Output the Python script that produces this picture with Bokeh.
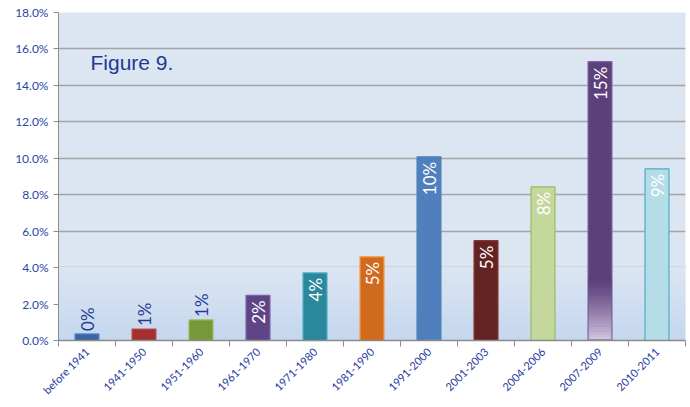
import numpy as np
from bokeh.plotting import figure
from bokeh.models import (ColumnDataSource, FixedTicker, NumeralTickFormatter, Range1d,
                          BoxAnnotation, Label)
from bokeh.core.properties import value
from bokeh.embed import file_html
from bokeh.resources import INLINE

categories = ["before 1941", "1941-1950", "1951-1960", "1961-1970", "1971-1980", "1981-1990",
              "1991-2000", "2001-2003", "2004-2006", "2007-2009", "2010-2011"]
shares = [0.0036, 0.0063, 0.0113, 0.0248, 0.0371, 0.0459, 0.1008, 0.0548, 0.0843, 0.1530, 0.0942]
bar_labels = ["0%", "1%", "1%", "2%", "4%", "5%", "10%", "5%", "8%", "15%", "9%"]
y_ticks = [0.0, 0.02, 0.04, 0.06, 0.08, 0.10, 0.12, 0.14, 0.16, 0.18]

fills = ["#3b64a2", "#a3302e", "#76973a", "#5f4587", "#2a889c", "#d06a1c",
         "#4f7fbd", "#632322", "#c4d79c", "#5d3f7c", "#b5dde7"]
outlines = ["#5b84c2", "#c0504d", "#9bbb59", "#7d62a5", "#4bacc6", "#f79646",
            "#4f81bd", "#8a3532", "#9bbb59", "#8064a2", "#4bacc6"]

x = np.arange(len(categories)) + 0.5
src = ColumnDataSource(dict(x=x, top=shares, fill=fills, line=outlines, lab=bar_labels))

p = figure(width=688, height=403, output_backend="svg", toolbar_location=None,
           x_range=Range1d(0, len(categories)), y_range=Range1d(0, 0.18),
           min_border_left=58, min_border_right=3, min_border_top=12, min_border_bottom=40)
p.outline_line_color = None
p.background_fill_color = "#dce6f2"
p.border_fill_color = "white"

# gradient at bottom of plot area
n = 20
c0 = np.array([0xdc, 0xe6, 0xf2])
c1 = np.array([0xc4, 0xd7, 0xef])
for i in range(n):
    t = (i + 0.5) / n
    c = (c1 * (1 - t) + c0 * t).astype(int)
    p.add_layout(BoxAnnotation(bottom=0.04 * i / n, top=0.04 * (i + 1) / n + 0.0003,
                               fill_color="#%02x%02x%02x" % tuple(c), fill_alpha=1.0,
                               line_color=None, level="underlay"))

p.vbar(x="x", top="top", width=0.42, bottom=0, source=src, fill_color="fill",
       line_color="line", line_width=1.2)

# gradient at bottom of 2007-2009 bar
idx = categories.index("2007-2009")
g0 = np.array([0x5d, 0x3f, 0x7c])
g1 = np.array([0xd4, 0xc6, 0xe0])
m = 24
for i in range(m):
    t = (i + 0.5) / m
    c = (g1 * (1 - t) ** 1.3 + g0 * (1 - (1 - t) ** 1.3)).astype(int)
    p.add_layout(BoxAnnotation(left=x[idx] - 0.2, right=x[idx] + 0.2,
                               bottom=0.0005 + 0.034 * i / m, top=0.0005 + 0.034 * (i + 1) / m + 0.0003,
                               fill_color="#%02x%02x%02x" % tuple(c), fill_alpha=1.0,
                               line_color=None, level="annotation"))

# labels: small bars get label above (dark blue), the rest inside (white)
outside = [i for i, v in enumerate(shares) if v < 0.02]
inside = [i for i, v in enumerate(shares) if v >= 0.02]
s_out = ColumnDataSource(dict(x=[x[i] for i in outside], y=[shares[i] for i in outside],
                              t=[bar_labels[i] for i in outside]))
s_in = ColumnDataSource(dict(x=[x[i] for i in inside], y=[shares[i] for i in inside],
                             t=[bar_labels[i] for i in inside]))
p.text(x="x", y="y", text="t", source=s_out, angle=np.pi / 2, text_align="left",
       text_baseline="middle", y_offset=-3, text_color="#1f3a93",
       text_font_size="17px", text_font=value("Lato"))
p.text(x="x", y="y", text="t", source=s_in, angle=np.pi / 2, text_align="right",
       text_baseline="middle", y_offset=5, text_color="white",
       text_font_size="17px", text_font=value("Lato"))

p.add_layout(Label(x=32, y=267, x_units="screen", y_units="screen", text="Figure 9.",
                   text_color="#1f3a93", text_font_size="21px", text_font="Liberation Sans"))

# axes
p.xgrid.grid_line_color = None
p.ygrid.grid_line_color = "#a5a5a5"
p.ygrid.grid_line_width = 1.5
p.ygrid.ticker = FixedTicker(ticks=y_ticks)

p.yaxis.ticker = FixedTicker(ticks=y_ticks)
p.yaxis.formatter = NumeralTickFormatter(format="0.0%")
p.yaxis.axis_line_color = "#8c8c8c"
p.yaxis.major_tick_line_color = "#8c8c8c"
p.yaxis.major_tick_in = 0
p.yaxis.major_tick_out = 5
p.yaxis.minor_tick_line_color = None
p.yaxis.major_label_text_color = "#2a46a4"
p.yaxis.major_label_text_font = "Lato"
p.yaxis.major_label_text_font_size = "12px"

p.xaxis.ticker = FixedTicker(ticks=list(x), minor_ticks=list(range(len(categories) + 1)))
p.xaxis.major_label_overrides = {float(xi): c for xi, c in zip(x, categories)}
p.xaxis.major_label_orientation = np.pi / 4
p.xaxis.major_label_standoff = 3
p.xaxis.major_tick_line_color = None
p.xaxis.major_tick_out = 0
p.xaxis.major_tick_in = 0
p.xaxis.minor_tick_line_color = "#8c8c8c"
p.xaxis.minor_tick_in = 0
p.xaxis.minor_tick_out = 6
p.xaxis.axis_line_color = "#8c8c8c"
p.xaxis.axis_line_width = 1.5
p.xaxis.major_label_text_color = "#1f3a9e"
p.xaxis.major_label_text_font = "Lato"
p.xaxis.major_label_text_font_size = "11px"

open("out.html", "w").write(file_html(p, INLINE))
